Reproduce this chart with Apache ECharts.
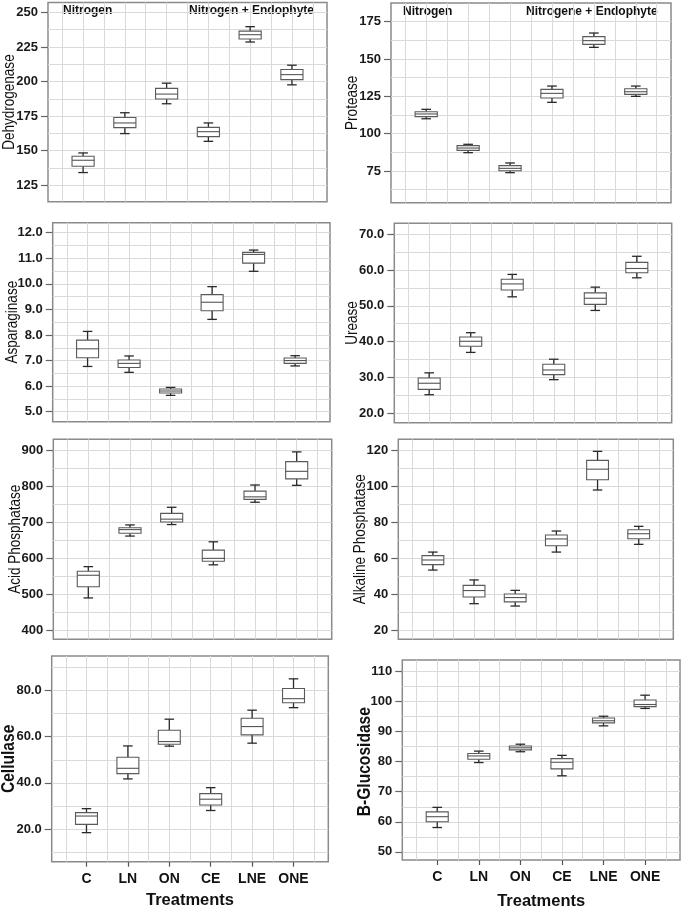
<!DOCTYPE html>
<html>
<head>
<meta charset="utf-8">
<script src="https://cdn.jsdelivr.net/npm/echarts@6/dist/echarts.min.js"></script>
<style>
html,body{margin:0;padding:0;background:#fff;}
#c{width:685px;height:911px;}
</style>
</head>
<body>
<div id="c"></div>
<script>
// ---- data: [min, Q1, median, Q3, max] per treatment ----
const categories = ['C', 'LN', 'ON', 'CE', 'LNE', 'ONE'];

const dehydrogenase = [
  [134.1, 138.7, 143.0, 145.9, 148.3],
  [162.3, 166.6, 170.0, 174.0, 177.4],
  [183.9, 187.3, 190.9, 195.0, 198.8],
  [156.7, 160.1, 163.7, 166.8, 170.0],
  [228.6, 230.8, 233.9, 236.5, 239.7],
  [197.6, 201.4, 205.0, 208.7, 211.8]
];
const protease = [
  [110.0, 111.4, 113.2, 114.7, 116.3],
  [87.3, 88.8, 90.4, 92.0, 92.9],
  [73.9, 75.2, 76.8, 78.6, 80.4],
  [121.0, 123.9, 127.0, 129.7, 131.9],
  [157.8, 159.8, 162.3, 165.0, 167.4],
  [125.0, 126.3, 128.1, 130.1, 131.9]
];
const asparaginase = [
  [6.77, 7.11, 7.46, 7.80, 8.14],
  [6.54, 6.73, 6.89, 7.02, 7.18],
  [5.64, 5.73, 5.81, 5.89, 5.95],
  [8.61, 8.95, 9.28, 9.58, 9.89],
  [10.49, 10.81, 11.15, 11.23, 11.32],
  [6.79, 6.89, 7.00, 7.10, 7.19]
];
const urease = [
  [25.2, 26.7, 28.4, 29.85, 31.3],
  [37.0, 38.7, 40.1, 41.3, 42.5],
  [52.5, 54.4, 56.1, 57.4, 58.75],
  [29.4, 30.8, 32.1, 33.7, 35.1],
  [48.7, 50.4, 52.1, 53.6, 55.2],
  [57.8, 59.2, 60.4, 62.1, 63.8]
];
const acidPhosphatase = [
  [489, 520, 552, 563, 576],
  [661, 669, 679, 684, 692],
  [693, 700, 708, 724, 741],
  [581, 591, 599, 622, 645],
  [755, 763, 770, 786, 803],
  [802, 820, 841, 868, 895]
];
const alkalinePhosphatase = [
  [53.3, 56.3, 58.9, 61.3, 63.3],
  [34.6, 38.3, 41.9, 44.8, 47.8],
  [33.3, 35.6, 38.0, 40.0, 42.0],
  [63.3, 66.8, 70.6, 72.8, 75.0],
  [97.8, 103.5, 109.4, 114.3, 119.3],
  [67.6, 70.7, 73.5, 75.7, 77.6]
];
const cellulase = [
  [18.4, 22.0, 25.6, 27.1, 28.8],
  [41.7, 44.0, 46.3, 51.1, 56.0],
  [55.9, 56.7, 57.9, 62.8, 67.6],
  [28.0, 30.4, 32.9, 35.3, 37.9],
  [57.2, 60.8, 64.4, 68.0, 71.5],
  [72.6, 74.7, 76.5, 80.9, 85.1]
];
const bGlucosidase = [
  [58.1, 60.0, 61.7, 63.3, 64.8],
  [79.7, 80.8, 81.9, 82.7, 83.5],
  [83.3, 83.9, 84.6, 85.2, 85.8],
  [75.3, 77.6, 79.8, 81.0, 82.1],
  [91.9, 92.9, 93.6, 94.5, 95.1],
  [97.7, 98.3, 99.0, 100.5, 102.1]
];

// ---- tick labels (major) and grid lines (major + minor) ----
const ticksDehydrogenase = [125, 150, 175, 200, 225, 250];
const gridDehydrogenase = [125, 137.5, 150, 162.5, 175, 187.5, 200, 212.5, 225, 237.5, 250];
const ticksProtease = [75, 100, 125, 150, 175];
const gridProtease = [62.5, 75, 87.5, 100, 112.5, 125, 137.5, 150, 162.5, 175];
const ticksAsparaginase = [5, 6, 7, 8, 9, 10, 11, 12];
const gridAsparaginase = [5, 5.5, 6, 6.5, 7, 7.5, 8, 8.5, 9, 9.5, 10, 10.5, 11, 11.5, 12];
const ticksUrease = [20, 30, 40, 50, 60, 70];
const gridUrease = [20, 25, 30, 35, 40, 45, 50, 55, 60, 65, 70];
const ticksAcid = [400, 500, 600, 700, 800, 900];
const gridAcid = [400, 450, 500, 550, 600, 650, 700, 750, 800, 850, 900];
const ticksAlkaline = [20, 40, 60, 80, 100, 120];
const gridAlkaline = [20, 30, 40, 50, 60, 70, 80, 90, 100, 110, 120];
const ticksCellulase = [20, 40, 60, 80];
const gridCellulase = [10, 20, 30, 40, 50, 60, 70, 80, 90];
const ticksGlucosidase = [50, 60, 70, 80, 90, 100, 110];
const gridGlucosidase = [50, 55, 60, 65, 70, 75, 80, 85, 90, 95, 100, 105, 110];

const xTicks = [0, 1, 2, 3, 4, 5];
const xGrid = [-0.5, 0, 0.5, 1, 1.5, 2, 2.5, 3, 3.5, 4, 4.5, 5, 5.5];

// ---- panel layout ----
const panels = [
  {title: 'Dehydrogenase', data: dehydrogenase, ticks: ticksDehydrogenase, grid: gridDehydrogenase,
   min: 113, max: 257.2, dec: 0, rect: [48, 2.5, 279, 199.2], tx: 9, bold: false, bottom: false},
  {title: 'Protease', data: protease, ticks: ticksProtease, grid: gridProtease,
   min: 53.8, max: 187.5, dec: 0, rect: [391, 3, 280, 199.7], tx: 352, bold: false, bottom: false},
  {title: 'Asparaginase', data: asparaginase, ticks: ticksAsparaginase, grid: gridAsparaginase,
   min: 4.61, max: 12.39, dec: 1, rect: [52.7, 222.7, 277.3, 199], tx: 12, bold: false, bottom: false},
  {title: 'Urease', data: urease, ticks: ticksUrease, grid: gridUrease,
   min: 17.4, max: 73, dec: 1, rect: [394.3, 223.3, 277.4, 199.4], tx: 352, bold: false, bottom: false},
  {title: 'Acid Phosphatase', data: acidPhosphatase, ticks: ticksAcid, grid: gridAcid,
   min: 374, max: 930, dec: 0, rect: [53.3, 439.3, 278.4, 200], tx: 15, bold: false, bottom: false},
  {title: 'Alkaline Phosphatase', data: alkalinePhosphatase, ticks: ticksAlkaline, grid: gridAlkaline,
   min: 14.8, max: 126, dec: 0, rect: [398.3, 439.3, 275, 200], tx: 360, bold: false, bottom: false},
  {title: 'Cellulase', data: cellulase, ticks: ticksCellulase, grid: gridCellulase,
   min: 5.8, max: 95, dec: 1, rect: [51.7, 656, 276.6, 205.7], tx: 9, bold: true, bottom: true},
  {title: 'B-Glucosidase', data: bGlucosidase, ticks: ticksGlucosidase, grid: gridGlucosidase,
   min: 47.3, max: 113.8, dec: 0, rect: [402.3, 660, 277.7, 203.3], tx: 365, bold: true, bottom: true}
];

const LABEL_FONT = '"Liberation Sans", Arial, sans-serif';
const GRID_COLOR = '#dadada';

function renderBox(params, api) {
  const x = api.value(0);
  const lo = api.coord([x, api.value(1)]);
  const q1 = api.coord([x, api.value(2)]);
  const md = api.coord([x, api.value(3)]);
  const q3 = api.coord([x, api.value(4)]);
  const hi = api.coord([x, api.value(5)]);
  const unit = api.size([1, 0])[0];
  const bw = unit * 0.53, cw = unit * 0.23;
  const cx = lo[0];
  const wStyle = {stroke: '#2a2a2a', lineWidth: 1.3};
  return {
    type: 'group',
    children: [
      {type: 'line', shape: {x1: cx, y1: hi[1], x2: cx, y2: q3[1]}, style: wStyle},
      {type: 'line', shape: {x1: cx, y1: q1[1], x2: cx, y2: lo[1]}, style: wStyle},
      {type: 'line', shape: {x1: cx - cw / 2, y1: hi[1], x2: cx + cw / 2, y2: hi[1]}, style: wStyle},
      {type: 'line', shape: {x1: cx - cw / 2, y1: lo[1], x2: cx + cw / 2, y2: lo[1]}, style: wStyle},
      {type: 'rect', shape: {x: cx - bw / 2, y: q3[1], width: bw, height: q1[1] - q3[1]},
       style: {fill: '#ffffff', stroke: '#5a5a5a', lineWidth: 1.1}},
      {type: 'line', shape: {x1: cx - bw / 2, y1: md[1], x2: cx + bw / 2, y2: md[1]},
       style: {stroke: '#555', lineWidth: 1.1}}
    ]
  };
}

const option = {
  animation: false,
  backgroundColor: '#ffffff',
  grid: [], xAxis: [], yAxis: [], series: [],
  graphic: [
    {type: 'text', left: 63, top: 5, style: {text: 'Nitrogen', font: 'bold 12px ' + LABEL_FONT, fill: '#111'}},
    {type: 'text', left: 189, top: 5, style: {text: 'Nitrogen + Endophyte', font: 'bold 12px ' + LABEL_FONT, fill: '#111'}},
    {type: 'text', left: 403, top: 6, style: {text: 'Nitrogen', font: 'bold 12px ' + LABEL_FONT, fill: '#111'}},
    {type: 'text', left: 526, top: 6, style: {text: 'Nitrogene + Endophyte', font: 'bold 12px ' + LABEL_FONT, fill: '#111'}}
  ]
};

panels.forEach((p, i) => {
  const [l, t, w, h] = p.rect;
  option.grid.push({left: l, top: t, width: w, height: h, show: true,
    borderColor: '#8a8a8a', borderWidth: 1.5, backgroundColor: 'transparent'});
  // y-axis title (condensed look via horizontal scale of the rotated text)
  option.graphic.push({
    type: 'text', x: p.tx, y: t + h / 2, rotation: Math.PI / 2, scaleX: 0.82,
    style: {text: p.title, fontFamily: LABEL_FONT, fontWeight: p.bold ? 'bold' : 'normal',
      fontSize: p.bold ? 19 : 16.5, fill: '#111', align: 'center', verticalAlign: 'middle'}
  });
  const xBase = {type: 'value', gridIndex: i, min: -0.84, max: 5.84};
  option.xAxis.push(Object.assign({}, xBase, {
    position: 'bottom',
    axisLine: {show: false, onZero: false},
    axisTick: {show: p.bottom, customValues: xTicks, length: 5, inside: false,
      lineStyle: {color: '#555', width: 1.2}},
    axisLabel: {show: p.bottom, customValues: xTicks, margin: 10,
      formatter: v => categories[Math.round(v)] || '',
      fontFamily: LABEL_FONT, fontWeight: 700, fontSize: 14, color: '#111'},
    splitLine: {show: false},
    name: p.bottom ? 'Treatments' : '',
    nameLocation: 'middle', nameGap: i === 7 ? 33 : 30,
    nameTextStyle: {fontFamily: LABEL_FONT, fontWeight: 'bold', fontSize: 16.5, color: '#111'}
  }));
  option.xAxis.push(Object.assign({}, xBase, {
    axisLine: {show: false, onZero: false},
    axisTick: {show: false, customValues: xGrid},
    axisLabel: {show: false},
    splitLine: {show: true, lineStyle: {color: GRID_COLOR, width: 1}}
  }));
  const yBase = {type: 'value', gridIndex: i, min: p.min, max: p.max};
  option.yAxis.push(Object.assign({}, yBase, {
    axisLine: {show: false, onZero: false},
    axisTick: {show: true, customValues: p.ticks, length: 7, lineStyle: {color: '#666', width: 1.2}},
    axisLabel: {show: true, customValues: p.ticks, margin: 10,
      formatter: v => Number(v).toFixed(p.dec),
      fontFamily: LABEL_FONT, fontWeight: 700, fontSize: 13, color: '#1a1a1a'},
    splitLine: {show: false}
  }));
  option.yAxis.push(Object.assign({}, yBase, {
    axisLine: {show: false, onZero: false},
    axisTick: {show: false, customValues: p.grid},
    axisLabel: {show: false},
    splitLine: {show: true, lineStyle: {color: GRID_COLOR, width: 1}}
  }));
  option.series.push({
    type: 'custom',
    name: p.title,
    xAxisIndex: 2 * i,
    yAxisIndex: 2 * i,
    renderItem: renderBox,
    encode: {x: 0, y: [1, 2, 3, 4, 5]},
    data: p.data.map((d, k) => [k].concat(d)),
    z: 5
  });
});

const chart = echarts.init(document.getElementById('c'), null, {renderer: 'canvas'});
chart.setOption(option);
</script>
</body>
</html>
